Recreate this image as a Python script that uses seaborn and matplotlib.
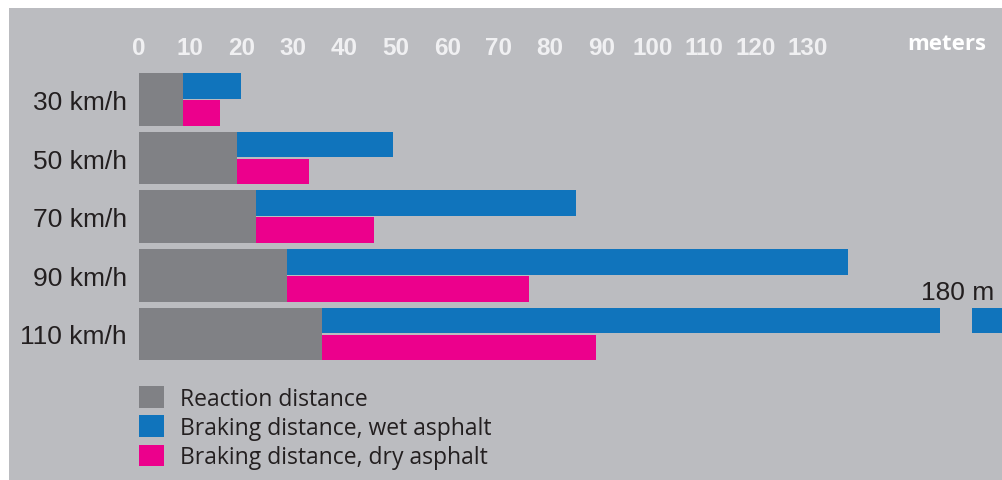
import numpy as np
import pandas as pd
import matplotlib
matplotlib.use("Agg")
import matplotlib.pyplot as plt
from matplotlib.patches import Rectangle, Patch
import seaborn as sns

# ---------------- data ----------------
speeds = ["30 km/h", "50 km/h", "70 km/h", "90 km/h", "110 km/h"]
reaction = [8.6, 19.1, 22.8, 28.8, 35.6]          # metres
wet_total = [19.8, 49.4, 85.0, 137.9, 180.0]       # reaction + braking, wet asphalt
dry_total = [15.8, 33.1, 45.7, 75.9, 88.9]         # reaction + braking, dry asphalt
x_ticks = [0, 10, 20, 30, 40, 50, 60, 70, 80, 90, 100, 110, 120, 130]
legend_labels = ["Reaction distance", "Braking distance, wet asphalt",
                 "Braking distance, dry asphalt"]
break_label = "180 m"
unit_label = "meters"

# ---------------- style ----------------
BG = "#BBBCC0"
GREY = "#808185"
BLUE = "#1074BC"
PINK = "#EC008C"
TICK_C = "#F0F0F2"
TEXT_C = "#231F20"

sns.set_theme(style="white")
plt.rcParams["font.family"] = ["Liberation Sans", "DejaVu Sans"]
plt.rcParams["patch.linewidth"] = 0

W, H = 1003, 481
fig = plt.figure(figsize=(W / 100, H / 100), dpi=100, facecolor="white")
fig.patches.append(Rectangle((9 / W, 0), (W - 9) / W, (H - 9) / H,
                             transform=fig.transFigure, facecolor=BG,
                             edgecolor="none", zorder=-10))

ax_left, ax_right, ax_top, ax_bot = 139, 1003, 70, 365
ax = fig.add_axes([ax_left / W, 1 - ax_bot / H, (ax_right - ax_left) / W,
                   (ax_bot - ax_top) / H])
ax.set_facecolor("none")

long = pd.DataFrame({
    "speed": speeds * 2,
    "distance": wet_total + dry_total,
    "surface": ["wet"] * len(speeds) + ["dry"] * len(speeds),
})
sns.barplot(data=long, x="distance", y="speed", hue="surface",
            hue_order=["wet", "dry"], palette=[BLUE, PINK], orient="h",
            width=0.92, gap=0.05, dodge=True, errorbar=None, legend=False,
            saturation=1, edgecolor="none", linewidth=0, ax=ax)
react_df = pd.DataFrame({"speed": speeds, "distance": reaction})
sns.barplot(data=react_df, x="distance", y="speed", color=GREY, orient="h",
            width=0.9, errorbar=None, saturation=1, edgecolor="none",
            linewidth=0, ax=ax)

px_per_m = 5.14
ax.set_xlim(0, (ax_right - ax_left) / px_per_m)
ax.set_ylim(4.513, -0.52)

# axis break on the over-long bar
break_at, break_w = 155.8, 6.2
ax.barh(y=len(speeds) - 1 - 0.23, width=break_w, left=break_at, height=0.5,
        color=BG, edgecolor="none", linewidth=0, zorder=5)
ax.text(0.99, len(speeds) - 1 - 0.72, break_label, transform=ax.get_yaxis_transform(),
        ha="right", va="center", fontsize=19, color=TEXT_C, zorder=6)

ax.xaxis.tick_top()
ax.set_xticks(x_ticks)
ax.set_xticklabels([str(t) for t in x_ticks], fontsize=17.5, fontweight="bold",
                   color=TICK_C)
ax.tick_params(axis="x", length=0, pad=7.5)
ax.tick_params(axis="y", length=0, pad=8.6, labelsize=19, labelcolor=TEXT_C)
ax.set_xlabel("")
ax.set_ylabel("")
for s in ax.spines.values():
    s.set_visible(False)

fig.text(947 / W, 1 - 45 / H, unit_label, ha="center", va="center",
         fontsize=16, fontweight="bold", color="white", family="Open Sans")

handles = [Patch(facecolor=c, edgecolor="none") for c in (GREY, BLUE, PINK)]
leg = fig.legend(handles, legend_labels, loc="upper left",
                 bbox_to_anchor=(139 / W, 1 - 387 / H), frameon=False,
                 prop={"family": "Open Sans", "size": 16.5},
                 handlelength=1.09, handleheight=1.09, handletextpad=0.7,
                 labelspacing=0.2, borderpad=0, borderaxespad=0)
for t in leg.get_texts():
    t.set_color(TEXT_C)

fig.savefig("out.png", dpi=100, facecolor="white")
